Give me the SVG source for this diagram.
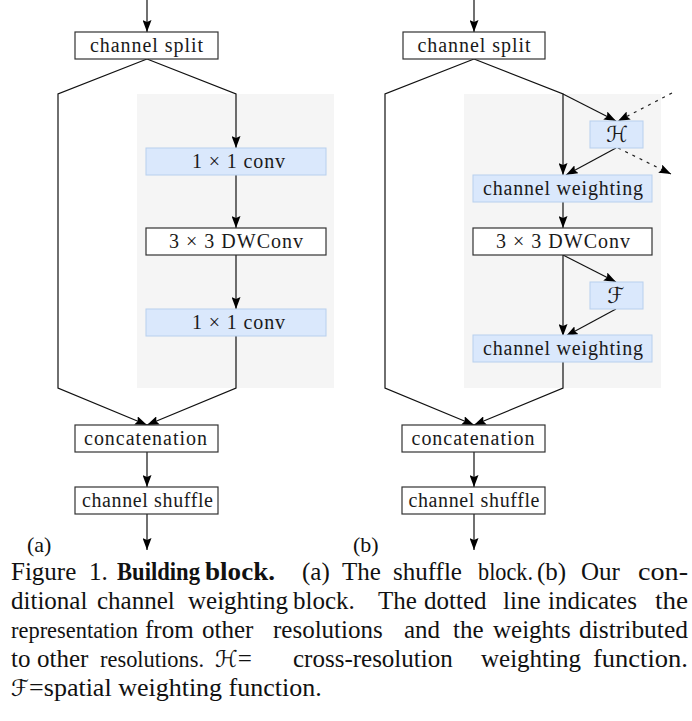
<svg xmlns="http://www.w3.org/2000/svg" width="692" height="721" viewBox="0 0 692 721">
<style>
.lbl{font-family:"Liberation Serif","Times New Roman",serif;font-size:20px;fill:#1a1a1a;text-anchor:middle}
.cal{font-family:"DejaVu Sans",sans-serif;font-size:22px;fill:#1a1a1a;text-anchor:middle;font-style:italic}
.wbox{fill:#ffffff;stroke:#333333;stroke-width:1.2}
.bbox{fill:#dae8fc;stroke:#b8d0ee;stroke-width:1}
.panel{fill:#f5f5f5}
.ln{fill:none;stroke:#111;stroke-width:1.2}
.dot{fill:none;stroke:#222;stroke-width:1.2;stroke-dasharray:3 5}
.cap{font-family:"Liberation Serif","Times New Roman",serif;font-size:25px;fill:#111}
.b{font-weight:bold}
.capm{font-family:"DejaVu Sans",sans-serif;font-size:23px;font-style:italic;fill:#111}
.sub{font-family:"Liberation Serif","Times New Roman",serif;font-size:22px;fill:#111}
</style>
<defs>
<marker id="ah" markerUnits="userSpaceOnUse" markerWidth="12" markerHeight="9" refX="12" refY="4.5" orient="auto">
<path d="M0,0 L12,4.5 L0,9 L2,4.5 z" fill="#000"/>
</marker>
</defs>
<rect class="panel" x="137" y="94" width="197" height="294"/>
<rect class="panel" x="464" y="94" width="197" height="294"/>
<g id="connectors">
<path class="ln" d="M147,0 L147,32" marker-end="url(#ah)"/>
<path class="ln" d="M147,59 L58,94 L58,388 L147,425" marker-end="url(#ah)"/>
<path class="ln" d="M147,59 L236,94 L236,148" marker-end="url(#ah)"/>
<path class="ln" d="M236,175 L236,228" marker-end="url(#ah)"/>
<path class="ln" d="M236,255 L236,309" marker-end="url(#ah)"/>
<path class="ln" d="M236,336 L236,388 L147,425" marker-end="url(#ah)"/>
<path class="ln" d="M147,452 L147,487" marker-end="url(#ah)"/>
<path class="ln" d="M147,514 L147,550" marker-end="url(#ah)"/>
<path class="ln" d="M474,0 L474,32" marker-end="url(#ah)"/>
<path class="ln" d="M474,59 L385,94 L385,388 L474,425" marker-end="url(#ah)"/>
<path class="ln" d="M474,59 L563,94 L563,175" marker-end="url(#ah)"/>
<path class="ln" d="M563,94 L616,121" marker-end="url(#ah)"/>
<path class="dot" d="M672,93 L618,121" marker-end="url(#ah)"/>
<path class="ln" d="M616,148 L566,175" marker-end="url(#ah)"/>
<path class="dot" d="M618,148 L671,174" marker-end="url(#ah)"/>
<path class="ln" d="M563,202 L563,228" marker-end="url(#ah)"/>
<path class="ln" d="M563,255 L563,336" marker-end="url(#ah)"/>
<path class="ln" d="M563,255 L616,282" marker-end="url(#ah)"/>
<path class="ln" d="M616,309 L566,336" marker-end="url(#ah)"/>
<path class="ln" d="M563,362 L563,388 L474,425" marker-end="url(#ah)"/>
<path class="ln" d="M474,452 L474,487" marker-end="url(#ah)"/>
<path class="ln" d="M474,514 L474,550" marker-end="url(#ah)"/>
</g>
<g id="a-split"><rect class="wbox" x="75" y="32" width="143" height="27"/><text class="lbl" x="146.5" y="52" textLength="113" lengthAdjust="spacing">channel split</text></g>
<g id="a-conv1"><rect class="bbox" x="146" y="148" width="180" height="27"/><text class="lbl" x="238.5" y="168" textLength="93" lengthAdjust="spacing">1 × 1 conv</text></g>
<g id="a-dwconv"><rect class="wbox" x="146" y="228" width="180" height="27"/><text class="lbl" x="236" y="248" textLength="134" lengthAdjust="spacing">3 × 3 DWConv</text></g>
<g id="a-conv2"><rect class="bbox" x="146" y="309" width="180" height="27"/><text class="lbl" x="238.5" y="329" textLength="93" lengthAdjust="spacing">1 × 1 conv</text></g>
<g id="a-concat"><rect class="wbox" x="75" y="425" width="143" height="27"/><text class="lbl" x="145.5" y="445" textLength="123" lengthAdjust="spacing">concatenation</text></g>
<g id="a-shuffle"><rect class="wbox" x="75" y="487" width="143" height="27"/><text class="lbl" x="147.5" y="507" textLength="131" lengthAdjust="spacing">channel shuffle</text></g>
<g id="b-split"><rect class="wbox" x="403" y="32" width="142" height="27"/><text class="lbl" x="474" y="52" textLength="113" lengthAdjust="spacing">channel split</text></g>
<g id="b-H"><rect class="bbox" x="590" y="121" width="53" height="27"/><text class="cal" x="617" y="142">ℋ</text></g>
<g id="b-cw1"><rect class="bbox" x="473" y="175" width="179" height="27"/><text class="lbl" x="563" y="195" textLength="160" lengthAdjust="spacing">channel weighting</text></g>
<g id="b-dwconv"><rect class="wbox" x="473" y="228" width="179" height="27"/><text class="lbl" x="563" y="248" textLength="134" lengthAdjust="spacing">3 × 3 DWConv</text></g>
<g id="b-F"><rect class="bbox" x="590" y="282" width="53" height="27"/><text class="cal" x="616" y="303">ℱ</text></g>
<g id="b-cw2"><rect class="bbox" x="473" y="335" width="179" height="27"/><text class="lbl" x="563" y="355" textLength="160" lengthAdjust="spacing">channel weighting</text></g>
<g id="b-concat"><rect class="wbox" x="402" y="425" width="143" height="27"/><text class="lbl" x="473" y="445" textLength="123" lengthAdjust="spacing">concatenation</text></g>
<g id="b-shuffle"><rect class="wbox" x="402" y="487" width="143" height="27"/><text class="lbl" x="474" y="507" textLength="131" lengthAdjust="spacing">channel shuffle</text></g>
<text class="sub" x="27" y="552">(a)</text>
<text class="sub" x="353" y="552">(b)</text>
<g id="caption" class="cap">
<text x="11" y="580">Figure</text>
<text x="89" y="580">1.</text>
<text class="b" x="117" y="580" textLength="83" lengthAdjust="spacingAndGlyphs">Building</text>
<text class="b" x="205" y="580" textLength="70" lengthAdjust="spacingAndGlyphs">block.</text>
<text x="302" y="580">(a)</text>
<text x="342" y="580">The</text>
<text x="393" y="580">shuffle</text>
<text x="478" y="580" textLength="55" lengthAdjust="spacingAndGlyphs">block.</text>
<text x="537" y="580">(b)</text>
<text x="581" y="580">Our</text>
<text x="638" y="580" textLength="50" lengthAdjust="spacingAndGlyphs">con-</text>
<text x="11" y="609">ditional</text>
<text x="97" y="609">channel</text>
<text x="188" y="609">weighting</text>
<text x="293" y="609">block.</text>
<text x="378" y="609">The</text>
<text x="424" y="609">dotted</text>
<text x="503" y="609">line</text>
<text x="548" y="609">indicates</text>
<text x="655" y="609" textLength="33" lengthAdjust="spacingAndGlyphs">the</text>
<text x="11" y="638" font-size="23" textLength="127" lengthAdjust="spacingAndGlyphs">representation</text>
<text x="145" y="638">from</text>
<text x="202" y="638">other</text>
<text x="273" y="638">resolutions</text>
<text x="404" y="638">and</text>
<text x="453" y="638">the</text>
<text x="493" y="638">weights</text>
<text x="579" y="638" textLength="109" lengthAdjust="spacingAndGlyphs">distributed</text>
<text x="11" y="667">to</text>
<text x="37" y="667">other</text>
<text x="100" y="667" font-size="23" textLength="104" lengthAdjust="spacingAndGlyphs">resolutions.</text>
<text x="215" y="667"><tspan class="capm">ℋ</tspan>=</text>
<text x="293" y="667">cross-resolution</text>
<text x="481" y="667">weighting</text>
<text x="593" y="667" textLength="95" lengthAdjust="spacingAndGlyphs">function.</text>
<text x="11" y="696" font-size="26"><tspan class="capm">ℱ</tspan>=spatial weighting function.</text>
</g>
</svg>
